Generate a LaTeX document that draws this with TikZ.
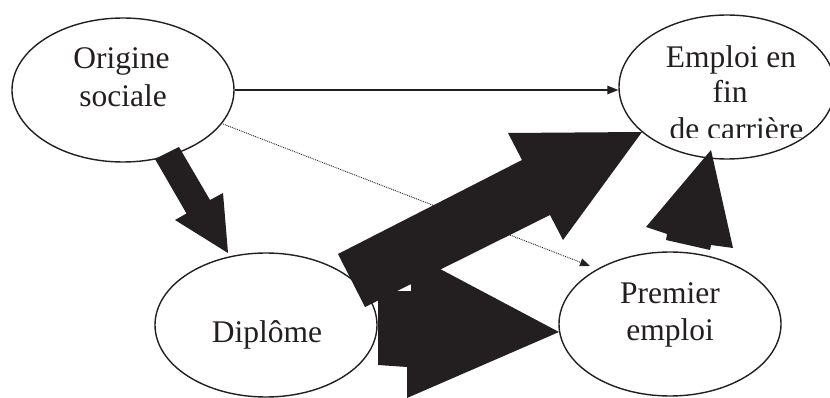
\documentclass[tikz,border=0pt]{standalone}
\usepackage{fontspec}
\setmainfont{Liberation Serif}
\usetikzlibrary{arrows.meta,shapes.geometric}
\definecolor{ink}{HTML}{231F20}
\tikzset{
  oval/.style={draw=ink, line width=1.4pt, ellipse, minimum width=222pt, minimum height=144pt, inner sep=0pt},
  lbl/.style={anchor=base, inner sep=0pt, text=ink, font=\fontsize{31.5}{38}\selectfont},
  fat/.style={fill=ink, draw=none},
  thin/.style={draw=ink, line width=1.3pt, -{Triangle[length=11pt,width=8.5pt]}},
  dots/.style={draw=ink, line width=0.9pt, densely dotted, -{Triangle[length=10pt,width=8pt]}}
}
\begin{document}
\begin{tikzpicture}[x=1pt,y=-1pt]
\useasboundingbox (0,0) rectangle (830,398);
\clip (0,0) rectangle (830,398);
\fill[white] (0,0) rectangle (830,398);

% ellipses
\node[oval] (orig) at (123,90) {};
\node[oval, minimum width=216pt] (emp) at (727,87) {};
\node[oval] (dip) at (266,325) {};
\node[oval] (prem) at (670,324) {};

% labels
\node[lbl] (t1) at (121.5,69) {Origine};
\node[lbl] (t2) at (123,107) {sociale};
\node[lbl] (t3) at (731,68) {Emploi en};
\node[lbl] (t4) at (730,103) {fin};
\begin{scope}
\clip (600,0) rectangle (830,138);
\node[lbl] (t5) at (736.5,140) {de carrière};
\end{scope}
\node[lbl] (t6) at (267,342) {Diplôme};
\node[lbl] (t7) at (670,303) {Premier};
\node[lbl] (t8) at (670,340) {emploi};

% thin connectors
\draw[thin] (orig.east) -- (orig.east -| emp.west);
\coordinate (dstart) at (223,124);
\coordinate (dend) at (590,266);
\draw[dots] (dstart) -- (dend);

% fat arrows
\fill[fat] (155,159) -- (179,147) -- (210,200) -- (223,193) -- (228,253) -- (175,220) -- (186.5,213.5) -- cycle;
\fill[fat] (338,254) -- (522,160) -- (508,133) -- (642,132) -- (563,240) -- (550,215) -- (365,307) -- cycle;
\fill[fat] (378,291) -- (411,291) -- (411,282) -- (425,261) -- (559,332) -- (407,398) -- (407,367) -- (378,365) -- cycle;
\fill[fat] (711,150) -- (646,227) -- (667,234) -- (666,240) -- (710,250) -- (711,245) -- (733,248) -- cycle;
\end{tikzpicture}
\end{document}
